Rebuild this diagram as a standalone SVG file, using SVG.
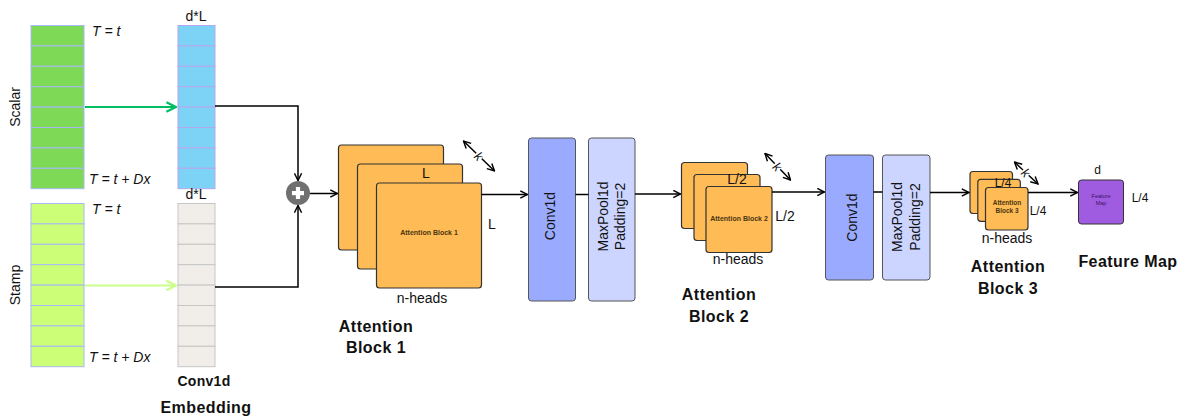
<svg xmlns="http://www.w3.org/2000/svg" width="1183" height="416" viewBox="0 0 1183 416">
  <defs>
    <marker id="arr" viewBox="0 0 10 10" refX="9" refY="5" markerWidth="6" markerHeight="6" orient="auto-start-reverse">
      <path d="M1,1 L9,5 L1,9" fill="none" stroke="#000" stroke-width="1.6"/>
    </marker>
    <marker id="arrG" viewBox="0 0 10 10" refX="9" refY="5" markerWidth="6" markerHeight="6" orient="auto">
      <path d="M1,1 L9,5 L1,9" fill="none" stroke="#00BF63" stroke-width="1.8"/>
    </marker>
    <marker id="arrLG" viewBox="0 0 10 10" refX="9" refY="5" markerWidth="6" markerHeight="6" orient="auto">
      <path d="M1,1 L9,5 L1,9" fill="none" stroke="#C9FF8A" stroke-width="1.8"/>
    </marker>
  </defs>
  <style>
    text { font-family: "Liberation Sans", Arial, sans-serif; fill: #111; }
    .lbl { font-size: 14px; }
    .sm { font-size: 12px; }
    .ital { font-size: 14px; font-style: italic; }
    .bold { font-size: 16px; font-weight: bold; letter-spacing: 0.45px; }
    .tiny { font-size: 7px; font-weight: bold; fill: #4a3510; }
    .cellS { fill: #7ED957; stroke: #A9B8F5; stroke-width: 1; }
    .cellB { fill: #7DD3F5; stroke: #B4A8EE; stroke-width: 1; }
    .cellT { fill: #CCFF77; stroke: #A9B8F5; stroke-width: 1; }
    .cellE { fill: #F1EEEA; stroke: #C6C6C6; stroke-width: 1; }
    .head { fill: #FFBB55; stroke: #333; stroke-width: 1.2; }
    .conv { fill: #99AAFF; stroke: #555; stroke-width: 1; }
    .pool { fill: #CCD5FF; stroke: #555; stroke-width: 1; }
    .wire { fill: none; stroke: #000; stroke-width: 1.5; }
    .kbg { fill: #fff; }
  </style>

  <!-- scalar input -->
  <g id="scalar">
    <rect class="cellS" x="31" y="25.5" width="53" height="20.4"/>
    <rect class="cellS" x="31" y="45.9" width="53" height="20.4"/>
    <rect class="cellS" x="31" y="66.3" width="53" height="20.4"/>
    <rect class="cellS" x="31" y="86.7" width="53" height="20.4"/>
    <rect class="cellS" x="31" y="107.1" width="53" height="20.4"/>
    <rect class="cellS" x="31" y="127.5" width="53" height="20.4"/>
    <rect class="cellS" x="31" y="147.9" width="53" height="20.4"/>
    <rect class="cellS" x="31" y="168.3" width="53" height="20.4"/>
    <text class="lbl" transform="translate(20,107) rotate(-90)" text-anchor="middle">Scalar</text>
    <text class="ital" x="92" y="36">T = t</text>
    <text class="ital" x="89" y="184">T = t + Dx</text>
  </g>

  <!-- scalar embedding -->
  <g id="scalar-emb">
    <rect class="cellB" x="178" y="25.5" width="37" height="20.4"/>
    <rect class="cellB" x="178" y="45.9" width="37" height="20.4"/>
    <rect class="cellB" x="178" y="66.3" width="37" height="20.4"/>
    <rect class="cellB" x="178" y="86.7" width="37" height="20.4"/>
    <rect class="cellB" x="178" y="107.1" width="37" height="20.4"/>
    <rect class="cellB" x="178" y="127.5" width="37" height="20.4"/>
    <rect class="cellB" x="178" y="147.9" width="37" height="20.4"/>
    <rect class="cellB" x="178" y="168.3" width="37" height="20.4"/>
    <text class="lbl" x="196" y="21" text-anchor="middle">d*L</text>
  </g>

  <!-- stamp input -->
  <g id="stamp">
    <rect class="cellT" x="31" y="203.5" width="53" height="20.4"/>
    <rect class="cellT" x="31" y="223.9" width="53" height="20.4"/>
    <rect class="cellT" x="31" y="244.3" width="53" height="20.4"/>
    <rect class="cellT" x="31" y="264.7" width="53" height="20.4"/>
    <rect class="cellT" x="31" y="285.1" width="53" height="20.4"/>
    <rect class="cellT" x="31" y="305.5" width="53" height="20.4"/>
    <rect class="cellT" x="31" y="325.9" width="53" height="20.4"/>
    <rect class="cellT" x="31" y="346.3" width="53" height="20.4"/>
    <text class="lbl" transform="translate(20,285) rotate(-90)" text-anchor="middle">Stamp</text>
    <text class="ital" x="92" y="214">T = t</text>
    <text class="ital" x="89" y="362">T = t + Dx</text>
  </g>

  <!-- stamp embedding -->
  <g id="stamp-emb">
    <rect class="cellE" x="178" y="203.5" width="37" height="20.4"/>
    <rect class="cellE" x="178" y="223.9" width="37" height="20.4"/>
    <rect class="cellE" x="178" y="244.3" width="37" height="20.4"/>
    <rect class="cellE" x="178" y="264.7" width="37" height="20.4"/>
    <rect class="cellE" x="178" y="285.1" width="37" height="20.4"/>
    <rect class="cellE" x="178" y="305.5" width="37" height="20.4"/>
    <rect class="cellE" x="178" y="325.9" width="37" height="20.4"/>
    <rect class="cellE" x="178" y="346.3" width="37" height="20.4"/>
    <text class="lbl" x="196" y="199" text-anchor="middle">d*L</text>
    <text x="204" y="386" text-anchor="middle" style="font-size:14px; font-weight:bold; letter-spacing:0.3px">Conv1d</text>
    <text class="bold" x="206" y="413" text-anchor="middle">Embedding</text>
  </g>

  <!-- sum -->
  <g id="sum">
    <circle cx="298" cy="193" r="12" fill="#707070"/>
    <rect x="292" y="191" width="12" height="4.2" fill="#fff"/>
    <rect x="295.9" y="187" width="4.2" height="12" fill="#fff"/>
  </g>

  <!-- attention block 1 -->
  <g id="attn1">
    <rect class="head" x="338.5" y="145" width="105" height="105" rx="3"/>
    <rect class="head" x="357.5" y="164" width="105" height="105" rx="3"/>
    <rect class="head" x="376.5" y="183" width="105" height="105" rx="3"/>
    <text class="tiny" x="429" y="235" text-anchor="middle">Attention Block 1</text>
    <text class="lbl" x="426" y="178" text-anchor="middle">L</text>
    <text class="lbl" x="492" y="229" text-anchor="middle">L</text>
    <text class="lbl" x="422" y="303" text-anchor="middle">n-heads</text>
    <text class="bold" x="376" y="332" text-anchor="middle">Attention</text>
    <text class="bold" x="376" y="353" text-anchor="middle">Block 1</text>
  </g>

  <!-- conv + pool 1 -->
  <g id="conv1">
    <rect class="conv" x="528.5" y="138" width="47" height="163" rx="3"/>
    <text class="lbl" transform="translate(555,216) rotate(-90)" text-anchor="middle">Conv1d</text>
  </g>
  <g id="pool1">
    <rect class="pool" x="588.5" y="138" width="46.5" height="163" rx="3"/>
    <text class="lbl" transform="translate(608,216.5) rotate(-90)" text-anchor="middle">MaxPool1d</text>
    <text class="lbl" transform="translate(625,216.5) rotate(-90)" text-anchor="middle">Padding=2</text>
  </g>

  <!-- attention block 2 -->
  <g id="attn2">
    <rect class="head" x="681.5" y="162.5" width="66" height="66" rx="3"/>
    <rect class="head" x="694" y="174.5" width="66" height="66" rx="3"/>
    <rect class="head" x="706" y="186.5" width="66" height="66" rx="3"/>
    <text class="tiny" x="739" y="220.5" text-anchor="middle">Attention Block 2</text>
    <text class="lbl" x="737" y="184" text-anchor="middle">L/2</text>
    <text class="lbl" x="785" y="221" text-anchor="middle">L/2</text>
    <text class="lbl" x="738" y="264" text-anchor="middle">n-heads</text>
    <text class="bold" x="719" y="300" text-anchor="middle">Attention</text>
    <text class="bold" x="719" y="322" text-anchor="middle">Block 2</text>
  </g>

  <!-- conv + pool 2 -->
  <g id="conv2">
    <rect class="conv" x="825.5" y="155" width="48" height="125" rx="3"/>
    <text class="lbl" transform="translate(856.5,217.5) rotate(-90)" text-anchor="middle">Conv1d</text>
  </g>
  <g id="pool2">
    <rect class="pool" x="882.5" y="155" width="47.5" height="125" rx="3"/>
    <text class="lbl" transform="translate(901.5,217) rotate(-90)" text-anchor="middle">MaxPool1d</text>
    <text class="lbl" transform="translate(920,217) rotate(-90)" text-anchor="middle">Padding=2</text>
  </g>

  <!-- attention block 3 -->
  <g id="attn3">
    <rect class="head" x="970" y="171.5" width="42.5" height="42" rx="3"/>
    <rect class="head" x="977.8" y="179.3" width="42.5" height="42" rx="3"/>
    <rect class="head" x="985.5" y="187.5" width="42.5" height="42.5" rx="3"/>
    <text class="tiny" x="1007" y="205" text-anchor="middle" style="font-size:6.5px">Attention</text>
    <text class="tiny" x="1007" y="212.5" text-anchor="middle" style="font-size:6.5px">Block 3</text>
    <text class="sm" x="1003" y="187" text-anchor="middle">L/4</text>
    <text class="sm" x="1038" y="215" text-anchor="middle">L/4</text>
    <text class="lbl" x="1007" y="243" text-anchor="middle">n-heads</text>
    <text class="bold" x="1008" y="272" text-anchor="middle">Attention</text>
    <text class="bold" x="1008" y="294" text-anchor="middle">Block 3</text>
  </g>

  <!-- output -->
  <g id="feature-map">
    <rect x="1078.5" y="180" width="45" height="44" rx="3" fill="#A05CE0" stroke="#333" stroke-width="1"/>
    <text x="1101" y="198" text-anchor="middle" style="font-size:5.5px; fill:#3a1360">Feature</text>
    <text x="1101" y="205" text-anchor="middle" style="font-size:5.5px; fill:#3a1360">Map</text>
    <text class="sm" x="1097.5" y="174" text-anchor="middle">d</text>
    <text class="sm" x="1140" y="202" text-anchor="middle">L/4</text>
    <text class="bold" x="1128" y="267" text-anchor="middle">Feature Map</text>
  </g>

  <!-- kernel-size indicators: double arrow with a label on a white patch -->
  <g id="kernel-marks">
    <line class="wire" x1="463.5" y1="141" x2="494.5" y2="171" stroke-width="1.3" marker-start="url(#arr)" marker-end="url(#arr)"/>
    <g transform="translate(479,156) rotate(45)">
      <rect class="kbg" x="-4" y="-5" width="8" height="10"/>
      <text class="ital" x="0" y="5" text-anchor="middle" style="font-size:13px">k</text>
    </g>
    <line class="wire" x1="765" y1="153.5" x2="790.5" y2="180" stroke-width="1.3" marker-start="url(#arr)" marker-end="url(#arr)"/>
    <g transform="translate(777.5,166.5) rotate(45)">
      <rect class="kbg" x="-4" y="-5" width="8" height="10"/>
      <text class="ital" x="0" y="5" text-anchor="middle" style="font-size:13px">k</text>
    </g>
    <line class="wire" x1="1014.5" y1="162" x2="1038" y2="184" stroke-width="1.3" marker-start="url(#arr)" marker-end="url(#arr)"/>
    <g transform="translate(1026,172.5) rotate(45)">
      <rect class="kbg" x="-4" y="-5" width="8" height="10"/>
      <text class="ital" x="0" y="5" text-anchor="middle" style="font-size:13px">k</text>
    </g>
  </g>

  <!-- connectors -->
  <g id="connectors">
    <line x1="85" y1="107" x2="176" y2="107" stroke="#00BF63" stroke-width="2" marker-end="url(#arrG)"/>
    <line x1="85" y1="285.5" x2="176" y2="285.5" stroke="#C9FF8A" stroke-width="2" marker-end="url(#arrLG)"/>
    <polyline class="wire" points="215,106 298,106 298,180.5" marker-end="url(#arr)"/>
    <polyline class="wire" points="215,287 298,287 298,205.5" marker-end="url(#arr)"/>
    <line class="wire" x1="310" y1="193.5" x2="337.5" y2="193.5" marker-end="url(#arr)"/>
    <line class="wire" x1="481.5" y1="194.5" x2="527.5" y2="194.5" marker-end="url(#arr)"/>
    <line class="wire" x1="575.5" y1="194.5" x2="588.5" y2="194.5"/>
    <line class="wire" x1="635" y1="194" x2="680.5" y2="194" marker-end="url(#arr)"/>
    <line class="wire" x1="772" y1="192" x2="824.5" y2="192" marker-end="url(#arr)"/>
    <line class="wire" x1="873.5" y1="192" x2="882.5" y2="192"/>
    <line class="wire" x1="930" y1="192.5" x2="969" y2="192.5" marker-end="url(#arr)"/>
    <line class="wire" x1="1028" y1="192.5" x2="1077.5" y2="192.5" marker-end="url(#arr)"/>
  </g>
</svg>
